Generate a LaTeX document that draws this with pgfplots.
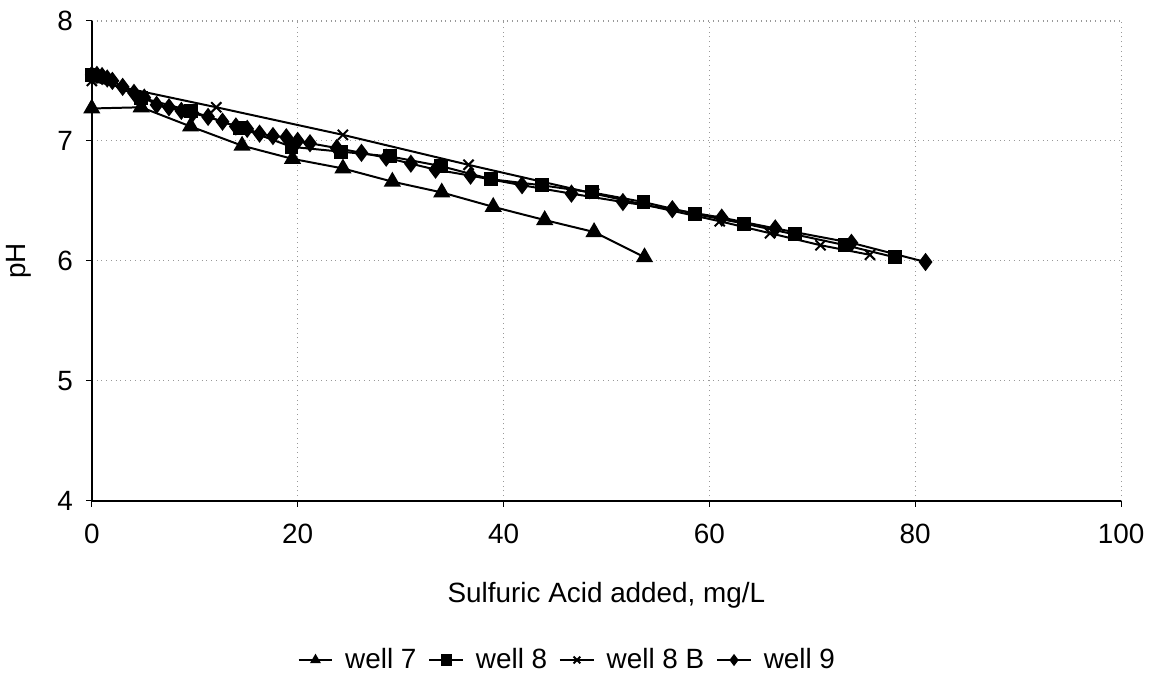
\documentclass[border=0pt]{standalone}
\usepackage{fontspec}
\setmainfont{Liberation Sans}
\usepackage{pgfplots}
\pgfplotsset{compat=1.18}
\begin{document}
\begin{tikzpicture}
\begin{axis}[
    scale only axis,
    width=517pt, height=241pt,
    xmin=0, xmax=100, ymin=4, ymax=8,
    xtick={0,20,...,100}, ytick={4,5,6,7,8},
    axis x line=bottom, axis y line=left,
    axis line style={-, black, line width=0.8pt},
    grid=major,
    major grid style={gray!80, dotted, line width=0.6pt},
    tick align=outside, major tick length=3pt,
    tick style={black, line width=0.5pt},
    /pgf/number format/assume math mode=true,
    tick label style={font=\fontsize{14}{17}\selectfont},
    xticklabel style={yshift=-5pt},
    yticklabel style={xshift=-3pt},
    xlabel={Sulfuric Acid added, mg/L},
    ylabel={pH},
    label style={font=\fontsize{14}{17}\selectfont},
    x label style={at={(axis description cs:0.5,-0.197)}, anchor=center},
    y label style={at={(axis description cs:-0.0706,0.5)}, anchor=center},
    legend columns=4,
    legend style={at={(0.463,-0.332)}, anchor=center, draw=none,
        font=\fontsize{14}{17}\selectfont, column sep=4pt},
    legend image post style={line width=0.8pt, mark size=2.4pt},
    every axis plot/.append style={black, line width=1pt},
    clip=false,
]
\path (rel axis cs:-0.088,-0.363) rectangle (rel axis cs:1.0251,1.0436);

% well 7
\addplot[mark=triangle*, mark size=4pt] coordinates {
(0,7.27)(4.8,7.28)(9.6,7.12)(14.6,6.96)(19.5,6.85)(24.4,6.77)(29.2,6.66)
(34,6.57)(39,6.45)(44,6.34)(48.8,6.24)(53.7,6.03)
};
\addlegendentry{well 7}

% well 8
\addplot[mark=square*, mark size=3pt] coordinates {
(0,7.55)(4.8,7.36)(9.6,7.25)(14.4,7.11)(19.4,6.95)(24.2,6.91)(29,6.87)
(33.9,6.79)(38.8,6.68)(43.7,6.63)(48.6,6.57)(53.6,6.49)(58.6,6.39)
(63.4,6.31)(68.3,6.22)(73.2,6.13)(78,6.03)
};
\addlegendentry{well 8}

% well 8 B
\addplot[mark=x, mark size=3.6pt, mark options={line width=1pt}] coordinates {
(0,7.50)(12.1,7.28)(24.4,7.05)(36.6,6.80)(48.8,6.56)(61,6.33)(65.9,6.23)
(70.8,6.13)(75.6,6.05)
};
\addlegendentry{well 8 B}

% well 9
\addplot[mark=diamond*, mark size=3.8pt] coordinates {
(0,7.55)(0.5,7.55)(1,7.54)(1.5,7.52)(2,7.50)(3,7.45)(4.1,7.40)(5.1,7.36)
(6.3,7.30)(7.5,7.28)(8.7,7.25)(9.8,7.23)(11.3,7.20)(12.7,7.16)(14,7.12)
(15.1,7.10)(16.3,7.06)(17.6,7.04)(18.9,7.03)(20,7.00)(21.2,6.98)(23.8,6.94)
(26.2,6.90)(28.6,6.86)(31,6.81)(33.4,6.76)(36.8,6.71)(41.8,6.63)(46.6,6.56)
(51.6,6.49)(56.4,6.43)(61.2,6.36)(66.4,6.27)(73.8,6.15)(81,5.99)
};
\addlegendentry{well 9}
\end{axis}
\end{tikzpicture}
\end{document}
